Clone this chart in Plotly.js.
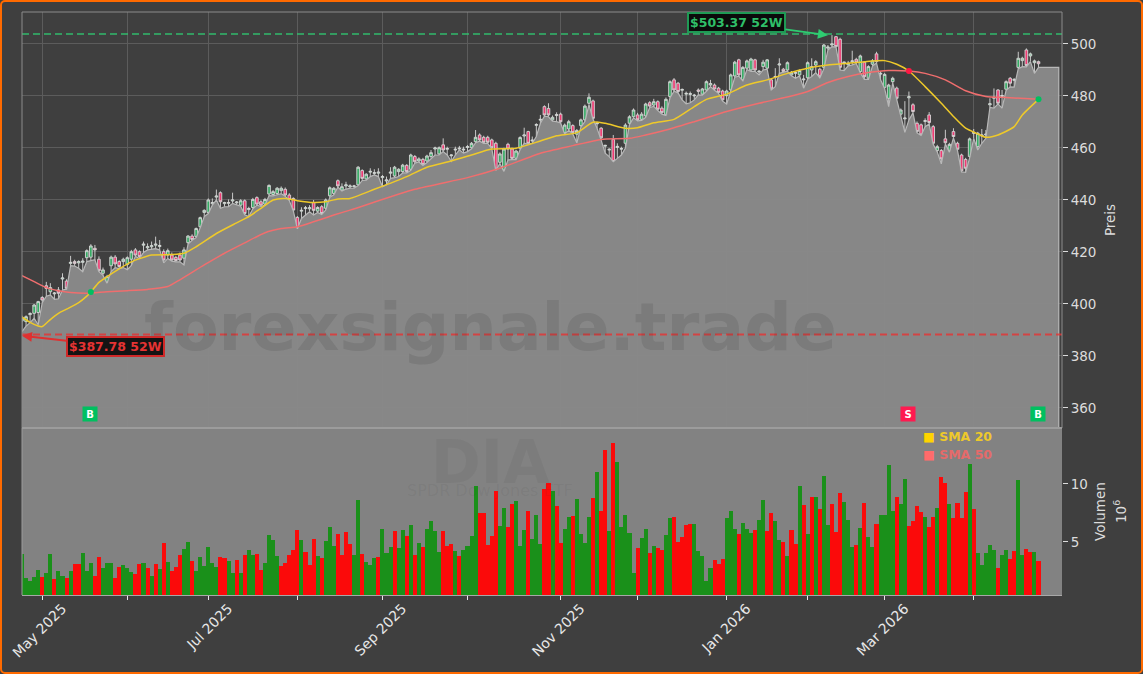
<!DOCTYPE html>
<html><head><meta charset="utf-8">
<script src="https://cdn.plot.ly/plotly-3.0.1.min.js"></script>
<style>
html,body{margin:0;padding:0;background:#3f3f3f;width:1143px;height:674px;overflow:hidden}
#chart{position:absolute;left:0;top:0;width:1143px;height:674px}
#frame{position:absolute;left:0;top:0;width:1143px;height:674px;box-sizing:border-box;border:2.5px solid #ff6a00;border-radius:5px;pointer-events:none}
</style></head><body>
<div id="chart"></div><div id="frame"></div>
<script>
const opens=[393.5,393.2,395.9,396.4,396.7,402.5,407,404.7,403.9,405.4,
409.6,408.8,415.6,416.3,415.8,416,417.8,418,421.4,417.2,
411.8,408.3,414.7,418,416.3,416.3,415.2,417.2,420.8,420.1,
422.6,421.6,422,422.6,422.1,420.1,418.8,418.8,417.9,418.8,
417.6,423.6,426.1,425.9,429.7,435.2,435.2,438.6,441.1,442.8,
438.6,438.7,439.6,438.9,438,439.7,436.3,437.1,440.9,439.3,
438.4,442.3,442.1,442.5,443.6,444.1,441.9,440.6,433.3,435.7,
436.7,436.6,439,435.7,437.4,436.8,441.6,442.5,447.4,443.8,
445.4,445,445.1,445.8,451.3,448.1,450.7,450.2,450.3,448.6,
447.3,450.3,449.2,450.9,450.9,453.3,451.8,456.7,455,455.6,
455,456.7,459.6,457.7,461.2,459.5,457,459.2,459.6,459.2,
460.2,460.1,462.4,465,464.1,464.1,463.1,461.8,454.5,451.5,
461.4,459.6,456,459.9,464.6,466.3,462.7,468.7,470.7,475.9,
475.2,470.8,472.5,473,465.9,467.3,468.6,465.3,468.6,470.8,
477.2,478.1,469.3,467.6,460.7,459.2,463.3,460.2,459.5,461.8,
469.5,472,472.7,471,472.3,477.4,476.5,477.8,475.3,472.7,
479.8,486.2,484.9,482.2,480.7,480.6,480,482.3,480.7,482.3,
484.2,484.2,483,481.9,480.1,482.3,487.7,493.9,486.2,490.7,
490,493.9,489.2,491.3,490.7,486.2,487.2,491.9,490.3,490,
488.1,488.7,488.1,486.2,487,490,491.9,490.3,491,498.4,
499.6,502.8,501.8,492.7,492,493.2,494.1,489.4,493,486.8,
492.2,496.2,488.4,483.3,479.1,485.5,483,473,471.2,479.3,
476.6,469.5,468.9,470.2,472.7,468.2,459,459,463.5,458.9,
466.3,461.8,457.3,455.6,456.7,465.6,460.5,464.6,465,476.6,
479.1,482.3,479.8,482.6,486.8,486,491,493.6,497.7,495.4,492.8,493.2];
const highs=[395.5,395.6,396.8,400,401.2,403,408.5,408,404.6,406.5,
411.8,409.5,418.5,417,416.8,417.6,421,423,422.7,418.3,
414,411.2,418.6,418.8,416.8,417.8,418.3,420.8,421.5,420.6,
424,423.3,424,425.9,424.6,421,421.3,419.8,418.5,419.8,
421.8,426.5,426.8,429.4,433.6,436.4,440.6,440.6,444,443.3,
439.3,440.2,442.8,439.6,440.3,440.2,437.4,440.8,441.4,439.9,
440.8,446,443.8,445,445.2,444.8,442.6,441,433.8,437.2,
437.7,438,440,437.6,438,440.6,445.2,445,447.9,446.4,
447,446,445.8,453,451.8,450.3,452.2,451.8,452.2,449.6,
449,452.6,453.1,452.2,453.9,453.8,457.8,457.3,456.4,456.2,
457.4,459.2,460.5,460.6,463.7,460.5,457.5,460.5,460.8,460.5,
461.1,462.3,466.9,465.6,464.7,464.7,463.6,462.4,458.3,460.1,
462,460.1,459.3,464.5,467.8,466.6,464.4,469.5,472.7,476.4,
477.2,472.5,473.7,473.6,469.4,470.8,469.1,467.3,471.3,476.7,
481,478.6,470.1,468,461.2,459.9,465,461.8,460.5,469.5,
472.6,475.2,473.5,473.8,477.4,478,478.9,478.3,476,479.4,
486,486.9,485.4,482.9,481.7,481.7,480.8,482.9,483.1,486,
486.2,484.8,483.5,482.4,482.4,488.6,493.5,494.3,491.5,494,
494.7,494.3,490,493.9,494.2,486.8,490.7,494.5,490.8,493.3,
489.6,489.4,490.2,488.1,493.3,494.5,493.8,490.9,500,499.6,
503.4,503,502.4,493.2,493.5,497.4,494.7,495.9,493.4,491.8,
494.2,497,489.5,488.8,484.7,487.4,483.6,475.2,478,481.7,
477.2,470.2,469.4,471.4,473.8,468.8,461.2,459.6,467,462,
467.6,462.4,457.8,456.2,464,467.3,466.2,467.3,466.9,479.1,
482.9,482.6,482.3,486,487.3,486.8,497,495.1,498.3,496.7,494,493.6];
const lows=[389.4,391.5,392.8,394.5,392,400.5,403,403.5,401.8,402,
405.4,405.7,414.7,414.6,413.7,412.4,416.3,416.8,417,412.4,
411,408,412.5,414,413.6,414,413.2,414.8,418.3,417.5,
419.8,420.8,421,421.3,420.8,415.8,417.5,416.5,416.2,416.2,
415,423,424.5,425.5,429.3,433.6,434.8,438,440,436.8,
437.4,437.4,438.7,438,437.6,434.3,433.6,436.6,438,437.5,
438,441.7,441.6,442,442.4,441.4,439.8,435.8,428.9,432.9,
434.2,435.5,434.2,435.2,434.4,436.2,441,442,445,443.4,
444.2,444.5,444.5,445.5,447.5,447.6,449,449.6,449,445.1,
445.8,448.3,448.6,449,450.4,450.4,451.4,454.2,454.6,453.3,
454.4,456,457.3,457.3,458.6,457.3,454.8,457.3,459.3,458,
458.6,459.7,462,462.6,461.8,461.8,459.7,451.4,454,451,
455.4,455.5,455.5,459.4,461.8,461.5,461.8,464.4,469.5,472.2,
472,470.3,470.1,469.6,465.4,466.8,465.4,462,468,470.2,
476.7,471,467.6,463,458,456.7,454.7,456,457.3,460,
469,471.6,470.4,470.6,471.8,475.6,476,474.4,473,472.5,
479.3,481.8,481.2,478.5,477,477.4,478.5,480.4,480.3,481.8,
483.6,482.2,481,478,476.9,481.9,487.2,487.6,485.8,490.2,
489.5,489.5,488.1,490,490.3,482.3,483.6,488.7,489,489.5,
487.8,486.8,487.7,483,486.5,487.5,489,487,490.5,497.7,
499,498.8,490,489.8,491.6,491.9,492.5,488.9,486.4,486.4,
491.5,492.7,486.2,482.9,475.9,485,478.6,472.5,466,470.8,
473.5,465.8,464.8,468.2,469.2,461.4,458.5,453.9,461.5,458.4,
463.9,459,450.8,450.6,456.2,463.7,459.2,461.8,463.7,475.6,
475.3,477,475.3,482.2,483.5,483.4,490.5,491.3,491.2,493.2,488.7,491];
const closes=[394.5,395.1,396.3,399.6,400.9,401.5,406,406.3,404.2,404.1,
410,406,416,415.6,416.3,416.5,420.5,422.3,420.8,412.8,
413.1,410.5,418,415.4,414.4,417.2,417.8,420.1,418.8,418.2,
423,422,422.4,423,422.5,416.9,420.5,416.9,416.7,416.9,
420.8,426.1,424.8,429,433.2,436,440,439,441.5,439.3,
439,439,440,439.2,439.7,434.8,436.7,440.2,438.4,438,
440.2,445.6,443.2,444.5,444.5,441.9,440.2,436.1,429,436,
437,437,436,437.1,434.8,440,444.7,444.5,445.4,445.1,
445.8,445.4,445.4,452.6,448.3,449.9,451,450.5,450.7,449,
447.7,450.7,452.6,451.8,453.4,450.9,457.3,454.7,455.8,453.7,
456.9,458.2,460,460.1,459.2,459.8,457.3,459.5,459.9,459.5,
460.5,461.8,464.1,463.1,462.2,462.2,460.1,451.8,457.7,459.6,
459.6,456,458.8,464,465,461.8,463,469,471,472.7,
472.7,471.8,472.8,470.1,468.8,470.1,465.9,466.7,470.8,476.1,
479.5,471.4,469.6,463.9,461,459.5,454.8,460.6,459.8,468.8,
472,474.6,470.8,473,476.9,476.1,477.8,474.9,473.6,478.7,
485.5,482.3,481.7,482.5,481,480.9,480.3,481.8,482.7,485.5,
484.8,482.7,481.4,478.5,481.9,488.1,493,488.1,491,493.5,
494.2,490,489.5,493,493.9,482.7,487.5,492.3,489.4,492.8,
489.1,489,489.8,486.5,492.8,491.3,493.2,487.4,499.6,498.8,
500,499,491,493,492.6,493.5,493,495.4,487.4,491.3,
493.5,493.2,488.7,488.3,484.2,486.8,479.1,474.6,471.5,479.7,
474,466.3,465,470.5,469.8,461.8,460.5,455.8,462,461.4,
464.4,459.5,451.2,452.2,463.5,466,465.7,465,465.3,477,
479.5,477.2,480.2,485.5,484.9,486.4,494.5,494.5,491.7,496.2,493.5,492.4];
const volumes=[4,1.9,1.64,2,2.59,2,2.33,3.97,1.8,2.5,
2.07,1.9,2.5,3.1,3.1,4.05,2.5,3.2,2.07,3.7,
2.76,3.2,3.2,1.9,2.85,3.02,2.76,2.42,2.24,3.1,
3.2,2.76,2.07,3.1,2.67,4.92,3.28,2.5,2.85,3.88,
4.4,5,3.36,2.5,3.7,2.93,4.57,3.2,2.85,3.7,
3.62,3.36,2.33,3.45,2.33,3.88,4.3,3.88,3.97,2.59,
3.2,5.6,5.17,3.8,2.93,3.2,3.88,4.3,6,5.17,
4.14,3.02,5.26,3.8,3.62,5.09,6.3,4.66,5.69,3.88,
5.86,4.83,3.88,8.62,3.97,3.28,3.02,3.62,3.7,6.12,
4.05,4.57,5.95,4.49,6.04,5.52,6.47,3.88,4.92,4.57,
6.12,6.81,5.95,4.14,5.95,4.66,4.83,4.23,3.8,4.3,
4.66,5.52,9.83,7.5,7.5,4.74,5.52,9.4,6.38,7.93,
6.3,8.28,8.54,4.66,6.04,7.67,5.26,7.33,4.83,9.57,
10.1,9.4,8.1,4.92,6.12,7.16,7.24,8.71,5.69,4.92,
7.16,8.8,11,7.67,12.9,5.95,13.5,11.9,6.3,7.33,
5.78,2.33,4.49,5.35,6.12,4.05,4.66,4.49,4.3,5.6,
7.07,7.16,5,5.43,6.47,6.55,6.55,4.23,3.8,1.64,
2.76,3.45,3.1,3.54,7.07,7.67,6.12,5.69,6.64,6.12,
5.78,6.04,6.9,8.62,5.95,7.5,6.81,5.17,5,3.8,
6.04,4.83,9.83,8.19,5.69,8.88,8.88,7.85,10.7,6.47,
8.28,5.86,9.23,8.45,6.9,4.57,4.74,6.21,8.37,5.43,
4.57,6.55,7.33,7.33,11.64,7.67,8.88,8.28,10.43,6.38,
6.81,8.1,7.6,7.15,6.3,7.15,7.93,10.6,10.1,8.28,
7.07,8.36,7.07,9.3,11.72,7.84,4.05,3,4.05,4.74,
4.3,2.76,3.88,4.3,3.53,4.22,10.34,3.88,4.4,4.14,4.14,3.36];
const volumeDirection=("gggggrggrg"+"grgrrgggrr"+"gggrrgggrr"+"grgrgrgrrr"+"ggrggggggr"
+"rggrgrggrr"+"ggggrrrrrg"+"rrrgrgggrr"+"rrggrgggrg"+"ggrggrgrgr"
+"ggggrrrgrg"+"gggrrrrrgg"+"rrgggrgggr"+"rgrrggrggg"+"grgrrgrggg"
+"ggrggrgrrg"+"grrrrrgggg"+"grrrgggrgg"+"grggrrggrg"+"rrgrgrgrgg"
+"rrrgggrgrg"+"grggggrggr"+"rrrgrrgrrg"+"rrrrgrgggg"+"grggrrggrrgr").split("");

const holidays=["2025-05-26","2025-06-19","2025-07-04","2025-09-01","2025-11-27","2025-12-25","2026-01-01","2026-01-19","2026-02-16","2026-04-03"];
const firstDay="2025-04-24", dayCount=257;
const dates=[];
for(let d=new Date(firstDay+"T00:00:00Z");dates.length<dayCount;d=new Date(d.getTime()+864e5)){
  const s=d.toISOString().slice(0,10), w=d.getUTCDay();
  if(w!==0&&w!==6&&!holidays.includes(s)) dates.push(s);
}
const monthTicks=["2025-05-01","2025-06-02","2025-07-01","2025-08-01","2025-09-02","2025-10-01","2025-11-03","2025-12-01","2026-01-02","2026-02-02","2026-03-02","2026-04-01"];
const monthLabels=["May 2025","","Jul 2025","","Sep 2025","","Nov 2025","","Jan 2026","","Mar 2026",""];

const sma20Idx=[0,2,4,5,6,7,9,11,14,16,17,19,21,24,27,32,37,40,43,48,53,56,59,62,65,68,72,75,78,81,87,95,100,106,111,116,122,128,132,137,141,144,149,152,156,161,166,169,174,179,184,189,194,199,204,208,213,216,219,223,227,230,233,236,238,241,245,247,251];
const sma20=[395,392.9,391.5,391.3,392.6,394,396.4,398,400.5,403,404.6,408.3,410.5,413.5,416.2,418.8,419,419.5,422,427.1,431.2,433.6,436.8,440,440.6,439.7,439,439.3,440.4,440.6,444.1,449,452.6,455,457.3,459.6,459.9,462.7,464.7,465.9,469.9,469.5,467.6,467.8,469.7,471,475.9,478.7,480.7,484.2,486.2,488.7,490.7,491.9,492.6,493.2,493.6,492.2,489.6,483.6,477.2,472.1,467.6,465.4,464.1,465,468.2,472.7,478.7];
const sma50Idx=[0,3,6,9,12,16,21,26,31,36,39,45,50,55,60,64,68,72,77,81,97,110,118,128,136,143,150,154,160,166,174,182,190,194,199,204,209,214,219,223,228,233,238,243,251];
const sma50=[410.9,408.6,406.3,405.1,404.4,404.1,404.7,405.1,405.6,406.7,409.3,415,419.5,423.5,427.4,429,429.7,431.6,434.2,436.1,444.1,448.6,452.2,458,460.9,463.3,463.7,465,467.3,470.1,474,477.2,480,481.7,485.2,487.5,489,489.8,489.6,488.7,486.2,482,479.8,479.4,478.7];
const areaTail=[491,491,491,491,491];
const areaFloor=340;
const high52w=503.37, low52w=387.78;
const highLineLevel=503.8, lowLineLevel=388.3;
const buyIdx=[17,251], buyPrice=[404.6,478.7];
const sellIdx=[219], sellPrice=[489.6];
const badgeLevel=357.7;
const volTicks=[5,10];

const col={paper:"#3f3f3f",grid:"#5c5c5c",axis:"#dcdcdc",frame:"#8c8c8c"};
const areaX=dates.concat([dates[256]]);
const areaY=lows.concat(areaTail).concat([areaFloor]);

const traces=[
 {type:"scatter",mode:"lines",x:areaX,y:areaY,xaxis:"x2",yaxis:"y2",fill:"tozeroy",fillcolor:"rgba(138,138,138,0.96)",line:{color:"#b8b8b8",width:1.2},hoverinfo:"skip",showlegend:false},
 {type:"candlestick",x:dates.slice(0,252),open:opens,high:highs,low:lows,close:closes,xaxis:"x2",yaxis:"y2",whiskerwidth:0,
  increasing:{line:{color:"#d8d8d8",width:0.9},fillcolor:"#35ab64"},decreasing:{line:{color:"#d8d8d8",width:0.9},fillcolor:"#ee3a72"},showlegend:false},
 {type:"scatter",mode:"lines",x:sma50Idx.map(i=>dates[i]),y:sma50,xaxis:"x2",yaxis:"y2",line:{color:"#f06e6e",width:1.5,shape:"spline",smoothing:0.6},name:"SMA 50",showlegend:false},
 {type:"scatter",mode:"lines",x:sma20Idx.map(i=>dates[i]),y:sma20,xaxis:"x2",yaxis:"y2",line:{color:"#eec92a",width:1.5,shape:"spline",smoothing:0.6},name:"SMA 20",showlegend:false},
 {type:"scatter",mode:"markers",x:buyIdx.map(i=>dates[i]),y:buyPrice,xaxis:"x2",yaxis:"y2",marker:{color:"#00c060",size:6},showlegend:false},
 {type:"scatter",mode:"markers",x:sellIdx.map(i=>dates[i]),y:sellPrice,xaxis:"x2",yaxis:"y2",marker:{color:"#ff1744",size:6},showlegend:false},
 {type:"bar",x:dates.slice(0,252),y:volumes,xaxis:"x",yaxis:"y",marker:{color:volumeDirection.map(d=>d==="g"?"#1a901a":"#fb0a0a"),line:{width:0}},showlegend:false}
];
const wm=(text,yPix,size,color,bold)=>({xref:"paper",yref:"paper",x:(490-22)/1040,y:(595-yPix)/583,text:bold?`<b>${text}</b>`:text,showarrow:false,font:{size:size,color:color,family:"DejaVu Sans"},xanchor:"center",yanchor:"middle"});
const badge=(i,t,bg)=>({xref:"x2",yref:"y2",x:dates[i],y:badgeLevel,xshift:-1,text:`<b>${t}</b>`,showarrow:false,width:14,height:14,align:"center",valign:"middle",bgcolor:bg,font:{size:10,color:"#ffffff",family:"DejaVu Sans"},borderpad:0});
const legendEntry=(yPix,sq,tx,t)=>({xref:"paper",yref:"paper",x:(921-22)/1040,y:(595-yPix)/583,xanchor:"left",yanchor:"middle",showarrow:false,text:`<b><span style="color:${sq}">■</span> ${t}</b>`,font:{size:12.5,color:tx,family:"DejaVu Sans"}});
const layout={
 width:1143,height:674,paper_bgcolor:col.paper,plot_bgcolor:col.paper,
 margin:{l:22,r:81,t:12,b:79,pad:0},showlegend:false,bargap:0,boxgap:0.35,boxgroupgap:0,hovermode:false,
 font:{family:"DejaVu Sans",color:col.axis,size:13},
 xaxis:{type:"category",categoryorder:"array",categoryarray:dates,range:[0,256.8],anchor:"y",domain:[0,1],showgrid:false,tickmode:"array",tickvals:monthTicks,ticktext:monthLabels,tickangle:-45,ticks:"outside",ticklen:4,tickcolor:"#e8e8e8",ticklabelshift:20,ticklabelstandoff:-5,tickfont:{size:14,color:"#e8e8e8"},showline:true,linecolor:"#a8a8a8",linewidth:1,zeroline:false},
 xaxis2:{type:"category",categoryorder:"array",categoryarray:dates,range:[0,256.8],anchor:"y2",domain:[0,1],showgrid:true,gridcolor:col.grid,gridwidth:1,tickmode:"array",tickvals:monthTicks,showticklabels:false,ticks:"",rangeslider:{visible:false},showline:false,zeroline:false},
 yaxis:{domain:[0,0.2865],range:[0.43,14.83],side:"right",anchor:"x",tickmode:"array",tickvals:volTicks,ticks:"outside",ticklen:5,tickcolor:col.axis,showgrid:false,zeroline:false,showline:false,tickfont:{size:13.5,color:col.axis},title:{text:"Volumen",font:{size:13.5,color:col.axis},standoff:8}},
 yaxis2:{domain:[0.2865,1],range:[352.3,512.3],side:"right",anchor:"x2",tickmode:"array",tickvals:[360,380,400,420,440,460,480,500],ticks:"outside",ticklen:5,tickcolor:col.axis,showgrid:true,gridcolor:col.grid,gridwidth:1,zeroline:false,showline:false,tickfont:{size:13.5,color:col.axis},title:{text:"Preis",font:{size:13.5,color:col.axis},standoff:9.5}},
 shapes:[
  {type:"rect",xref:"x domain",yref:"y domain",x0:0,x1:1,y0:0,y1:1,fillcolor:"#828282",line:{width:0},layer:"below"},
  {type:"line",xref:"paper",x0:0,x1:1,yref:"y2",y0:highLineLevel,y1:highLineLevel,line:{color:"rgba(46,204,113,0.65)",width:2,dash:"7px,4px"}},
  {type:"line",xref:"paper",x0:0,x1:1,yref:"y2",y0:lowLineLevel,y1:lowLineLevel,line:{color:"rgba(230,50,50,0.8)",width:2,dash:"7px,4px"}},
  {type:"rect",xref:"paper",yref:"paper",x0:0,x1:1,y0:0.2865,y1:1,line:{color:col.frame,width:1},fillcolor:"rgba(0,0,0,0)"},
  {type:"line",xref:"paper",yref:"paper",x0:0,x1:1,y0:0.2865,y1:0.2865,line:{color:"#9c9c9c",width:2}},
  {type:"line",xref:"paper",yref:"paper",x0:0,x1:0,y0:0,y1:0.2865,line:{color:"#9c9c9c",width:1}}
 ],
 annotations:[
  wm("forexsignale.trade",327,66.5,"rgba(50,50,50,0.14)",true),
  wm("DIA",462,60,"rgba(50,50,50,0.07)",true),
  wm("SPDR Dow Jones ETF",490,16,"rgba(50,50,50,0.08)",false),
  {xref:"x2",yref:"y2",x:dates[199],y:high52w,axref:"pixel",ayref:"pixel",ax:-91,ay:-12.5,text:"<b>$503.37 52W</b>",showarrow:true,arrowhead:2,arrowsize:1,arrowwidth:2,arrowcolor:"#2ecc71",bgcolor:"#0b0b0b",bordercolor:"#1f9a55",borderwidth:2,borderpad:1,font:{size:12.5,color:"#2fbf68",family:"DejaVu Sans"}},
  {xref:"x2",yref:"y2",x:dates[0],y:low52w,axref:"pixel",ayref:"pixel",ax:93,ay:10.5,text:"<b>$387.78 52W</b>",showarrow:true,arrowhead:2,arrowsize:1,arrowwidth:2,arrowcolor:"#e03030",bgcolor:"#141414",bordercolor:"#d02828",borderwidth:2,borderpad:1,font:{size:12.5,color:"#e53333",family:"DejaVu Sans"}},
  badge(17,"B","#00c060"),badge(219,"S","#ff1a50"),badge(251,"B","#00c060"),
  legendEntry(437,"#ffd400","#eec92a","SMA 20"),
  legendEntry(454,"#ff6b6b","#e56a6a","SMA 50"),
  {xref:"paper",yref:"paper",x:(1120-22)/1040,y:(595-512)/583,textangle:-90,showarrow:false,xanchor:"center",yanchor:"middle",text:"10<sup>6</sup>",font:{size:13.5,color:col.axis,family:"DejaVu Sans"}}
 ]
};
Plotly.newPlot("chart",traces,layout,{displayModeBar:false,staticPlot:true});
</script>
</body></html>
